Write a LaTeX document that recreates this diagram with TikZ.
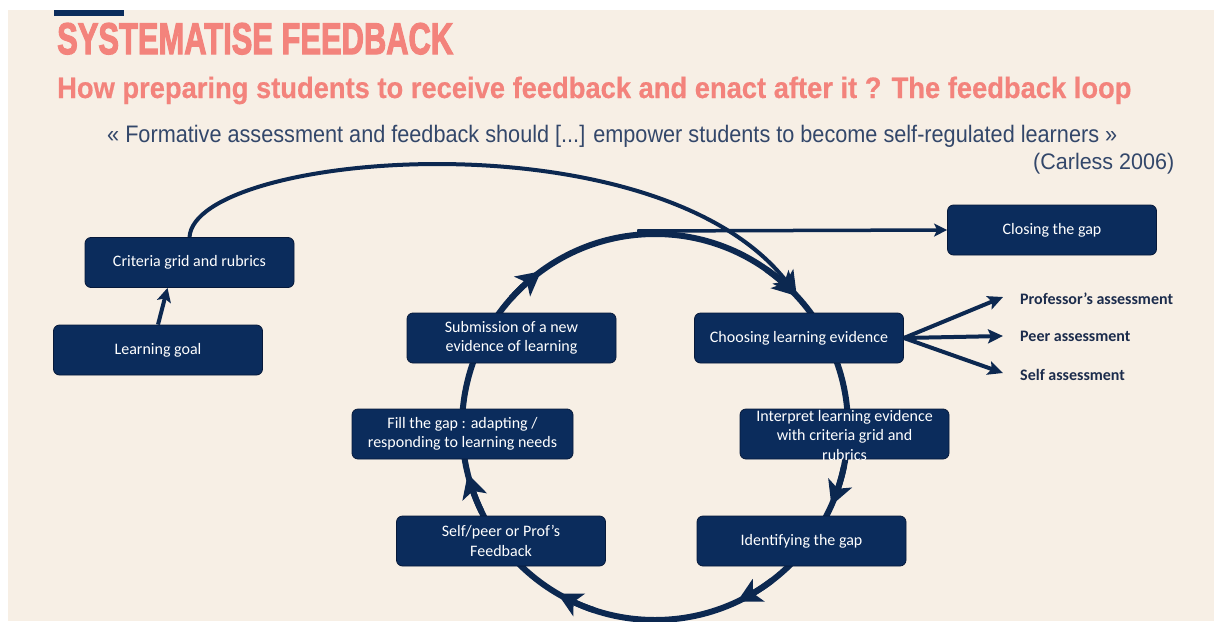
\documentclass[tikz,border=0pt]{standalone}
\usepackage{fontspec}
\setmainfont{Liberation Sans}
\newfontfamily\boxfont{Carlito}
\newfontface\titleface{Liberation Sans Bold}[RawFeature={embolden=3}]
\newfontface\subface{Liberation Sans Bold}[RawFeature={embolden=0.5}]
\usetikzlibrary{arrows.meta,calc,bending}

\definecolor{paper}{HTML}{F7EFE5}
\definecolor{salmon}{HTML}{F3837C}
\definecolor{quoteblue}{HTML}{33476A}
\definecolor{navy}{HTML}{0B2C5C}
\definecolor{navyline}{HTML}{0C2850}
\definecolor{boxedge}{HTML}{06193A}
\definecolor{labelblue}{HTML}{1C2C4C}

% arrowhead placed on the feedback ring, ending at angle #1
\newcommand\ringtip[1]{%
  \draw[ring,bighead] ($(ctr)+(#1-12:193)$) arc[start angle=#1-12, end angle=#1, radius=193];}

\begin{document}
\begin{tikzpicture}[x=1pt,y=-1pt,
  box/.style={draw=boxedge, line width=0.8pt, fill=navy, rounded corners=6pt,
    minimum width=209pt, minimum height=50pt, inner sep=2pt, text=white,
    align=center, font=\boxfont\fontsize{16}{19.5}\selectfont},
  boxtext/.style={inner sep=0pt, text=white, align=center,
    font=\boxfont\fontsize{16}{19.5}\selectfont},
  ring/.style={draw=navyline, line width=6pt},
  link/.style={draw=navyline, line width=4pt},
  bighead/.style={-{Stealth[length=24pt,width=25pt,inset=6pt]}},
  midhead/.style={-{Stealth[length=15pt,width=14pt,inset=3pt]}},
  tag/.style={anchor=west, inner sep=0pt, text=labelblue,
    font=\boxfont\bfseries\fontsize{16}{19}\selectfont}
]
\useasboundingbox (0,0) rectangle (1214,621);
\fill[white] (0,0) rectangle (1214,621);
\fill[paper] (8,10) rectangle (1214,621);
\fill[navy] (54,10) rectangle (124,16);

% headings
\node[anchor=base west, inner sep=0pt, text=salmon] (title) at (57,54)
  {\resizebox{396pt}{31pt}{\titleface SYSTEMATISE FEEDBACK}};
\node[anchor=base west, inner sep=0pt, text=salmon] (subtitle) at (57,98)
  {\resizebox{1074pt}{21.4pt}{\subface How preparing students to receive feedback and enact after it ? The feedback loop}};
\node[anchor=base west, inner sep=0pt, text=quoteblue] (quote) at (107,142)
  {\resizebox{1010pt}{17.3pt}{« Formative assessment and feedback should [...] empower students to become self-regulated learners »}};
\node[anchor=base west, inner sep=0pt, text=quoteblue] (source) at (1033,169)
  {\resizebox{141pt}{16.3pt}{(Carless 2006)}};

% the feedback loop
\coordinate (ctr) at (655,427);
\coordinate (tipA) at ($(ctr)+(-42.7:193)$);
\coordinate (ltop) at (637,231);
\draw[ring] (ctr) circle[radius=193];
\ringtip{-126.2}
\ringtip{-42.7}
\ringtip{24}
\ringtip{64.8}
\ringtip{120.3}
\ringtip{166}

% boxes
\node[box] (crit) at (189.5,262.5) {Criteria grid and rubrics};
\node[box] (goal) at (158,350) {Learning goal};
\node[box] (sub) at (511.5,338) {Submission of a new\\evidence of learning};
\node[box] (cho) at (799,338) {Choosing learning evidence};
\node[box] (close) at (1052,230) {Closing the gap};
\node[box, minimum width=221pt] (fill) at (462.5,434) {Fill the gap : adapting /\\responding to learning needs};
\node[box] (interp) at (844.5,434) {};
\node[boxtext] (interptext) at ([yshift=-1pt]interp.center) {Interpret learning evidence\\with criteria grid and\\rubrics};
\node[box] (self) at (501,541) {Self/peer or Prof’s\\Feedback};
\node[box] (ident) at (801.5,541) {Identifying the gap};

% assessment modes
\node[tag] (prof) at (1020,299) {Professor’s assessment};
\node[tag] (peer) at (1020,336) {Peer assessment};
\node[tag] (selfa) at (1020,375) {Self assessment};

% connectors
\draw[link, bighead] (crit.north) .. controls (195,150) and (680,110) .. (tipA);
\draw[link, line width=3.5pt, -{Stealth[length=13pt,width=13pt,inset=3pt]}] (ltop) -- (close.west);
\draw[link, -{Stealth[length=14pt,width=14pt,inset=3pt]}] (goal.north) -- ($(crit.south)+(-22,0)$);
\draw[link, midhead] (cho.east) -- ([xshift=-17pt,yshift=2pt]prof.west);
\draw[link, midhead] (cho.east) -- ([xshift=-17pt]peer.west);
\draw[link, midhead] (cho.east) -- ([xshift=-17pt,yshift=2pt]selfa.west);
\end{tikzpicture}
\end{document}
